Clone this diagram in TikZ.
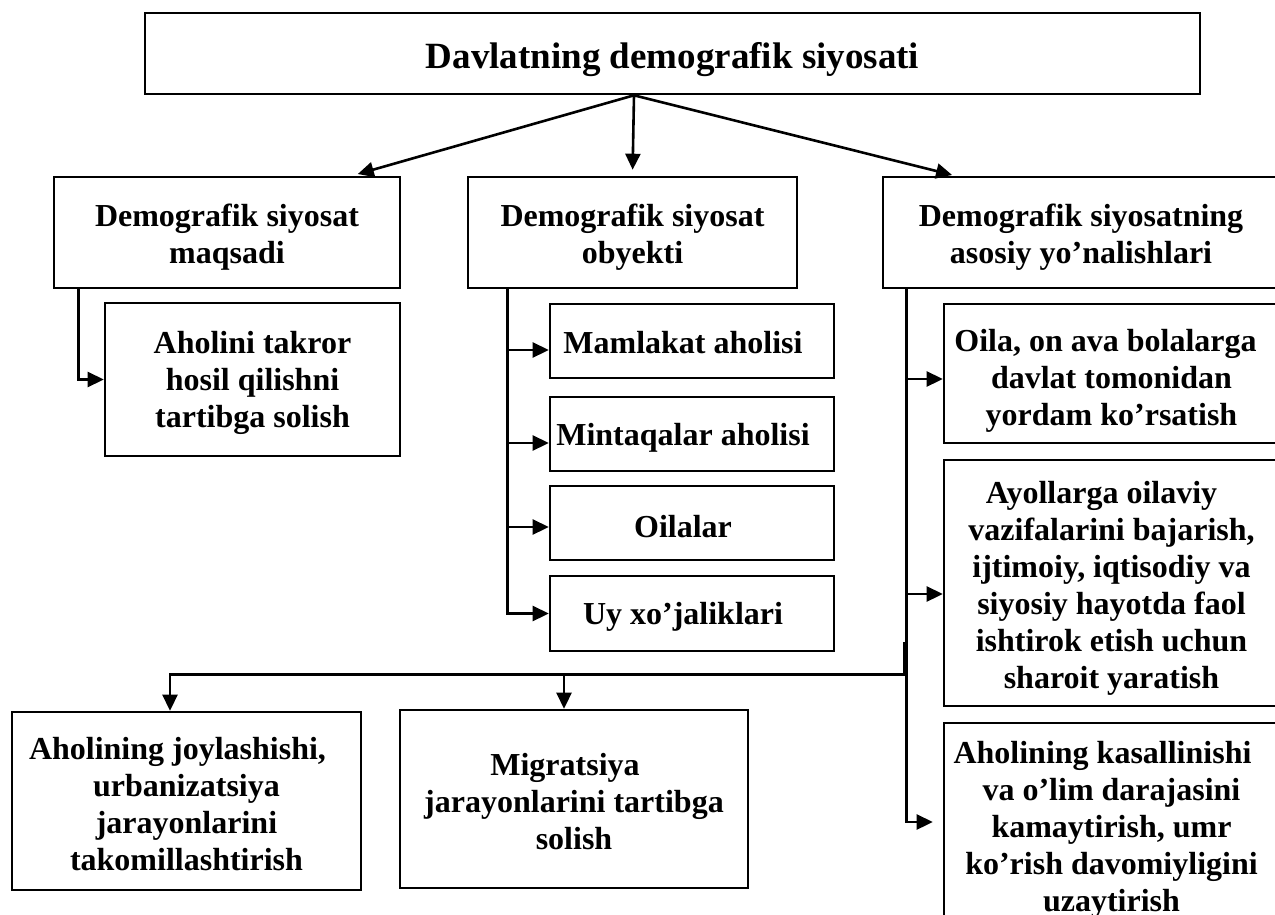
\documentclass[tikz,border=0pt]{standalone}
\usepackage{fontspec}
\setmainfont{Liberation Serif}
\usetikzlibrary{arrows.meta}
\tikzset{
  frame/.style={draw, line width=2.6pt, inner sep=0pt},
  txt/.style={inner sep=0pt, align=center,
    font=\bfseries\fontsize{32}{37}\selectfont},
  link/.style={line width=2.6pt},
  arr/.style={line width=2.6pt, -{Triangle[length=16pt,width=15pt]}}
}
\begin{document}
\begin{tikzpicture}[x=1pt,y=-1pt]
\useasboundingbox (0,0) rectangle (1275,915);
\clip (0,0) rectangle (1275,915);
% boxes
\node[frame, minimum width=1055pt, minimum height=81pt] (top) at (672.5,53.5) {};
\node[txt, font=\bfseries\fontsize{37}{42}\selectfont] (topt) at ([yshift=-6pt]top.center) {Davlatning demografik siyosati};
\node[frame, minimum width=346pt, minimum height=111pt] (b1) at (227,232.5) {};
\node[txt] (b1t) at ([yshift=-5pt]b1.center) {Demografik siyosat\\maqsadi};
\node[frame, minimum width=329pt, minimum height=111pt] (b2) at (632.5,232.5) {};
\node[txt] (b2t) at ([yshift=-5pt]b2.center) {Demografik siyosat\\obyekti};
\node[frame, minimum width=396pt, minimum height=111pt] (b3) at (1081,232.5) {};
\node[txt] (b3t) at ([yshift=-5pt]b3.center) {Demografik siyosatning\\asosiy yo’nalishlari};
\node[frame, minimum width=295pt, minimum height=153pt] (a1) at (252.5,379.5) {};
\node[txt] (a1t) at ([yshift=-3pt]a1.center) {Aholini takror\\hosil qilishni\\tartibga solish};
\node[frame, minimum width=284pt, minimum height=74pt] (m1) at (692,341) {};
\node[txt] (m1t) at ([xshift=-9pt,yshift=-2pt]m1.center) {Mamlakat aholisi};
\node[frame, minimum width=284pt, minimum height=74pt] (m2) at (692,434) {};
\node[txt] (m2t) at ([xshift=-9pt,yshift=-4pt]m2.center) {Mintaqalar aholisi};
\node[frame, minimum width=284pt, minimum height=74pt] (m3) at (692,523) {};
\node[txt] (m3t) at ([xshift=-9pt,yshift=-4pt]m3.center) {Oilalar};
\node[frame, minimum width=284pt, minimum height=75pt] (m4) at (692,613.5) {};
\node[txt] (m4t) at ([xshift=-9pt,yshift=-3pt]m4.center) {Uy xo’jaliklari};
\node[frame, minimum width=335pt, minimum height=139pt] (r1) at (1111.5,373.5) {};
\node[txt] (r1t) at ([yshift=-7pt]r1.center) {Oila, on ava bolalarga\hspace*{12pt}\\davlat tomonidan\\yordam ko’rsatish};
\node[frame, minimum width=335pt, minimum height=246pt] (r2) at (1111.5,583) {};
\node[txt] (r2t) at ([yshift=-5pt]r2.center) {Ayollarga oilaviy\hspace*{20pt}\\vazifalarini bajarish,\\ijtimoiy, iqtisodiy va\\siyosiy hayotda faol\\ishtirok etish uchun\\sharoit yaratish};
\node[frame, minimum width=335pt, minimum height=206pt] (r3) at (1111.5,826) {};
\node[txt] (r3t) at ([yshift=-4pt]r3.center) {Aholining kasallinishi\hspace*{18pt}\\va o’lim darajasini\\kamaytirish, umr\\ko’rish davomiyligini\\uzaytirish};
\node[frame, minimum width=349pt, minimum height=178pt] (c1) at (186.5,801) {};
\node[txt] (c1t) at ([yshift=-3pt]c1.center) {Aholining joylashishi,\hspace*{18pt}\\urbanizatsiya\\jarayonlarini\\takomillashtirish};
\node[frame, minimum width=348pt, minimum height=178pt] (c2) at (574,799) {};
\node[txt] (c2t) at ([yshift=-3pt]c2.center) {Migratsiya\hspace*{18pt}\\jarayonlarini tartibga\\solish};
% top arrows
\coordinate (o) at ([xshift=-38.5pt]top.south);
\draw[arr, shorten >=6pt] (o) -- ([xshift=125pt]b1.north);
\draw[arr, shorten >=6pt] (o) -- (b2.north);
\draw[arr, shorten >=3pt] (o) -- ([xshift=-126pt]b3.north);
% left branch
\draw[arr] ([xshift=26pt]b1.south west) |- (a1.west);
% middle branch
\coordinate (s2) at ([xshift=41pt]b2.south west);
\draw[arr] (s2) |- (m4.west);
\draw[arr] ([yshift=-9pt]m1.west -| s2) -- ([yshift=-9pt]m1.west);
\draw[arr] ([yshift=-9pt]m2.west -| s2) -- ([yshift=-9pt]m2.west);
\draw[arr] ([yshift=-4pt]m3.west -| s2) -- ([yshift=-4pt]m3.west);
% right branch
\coordinate (s3) at ([xshift=25pt]b3.south west);
\draw[arr, shorten >=10pt] (s3) |- ([yshift=4pt]r3.west);
\draw[arr] ([yshift=-5.5pt]r1.west -| s3) -- ([yshift=-5.5pt]r1.west);
\draw[arr] ([yshift=-11pt]r2.west -| s3) -- ([yshift=-11pt]r2.west);
% bottom branch
\coordinate (j0) at ([xshift=-2pt,yshift=-353pt]s3);
\coordinate (j) at ([xshift=-2pt,yshift=-385pt]s3);
\draw[link] (j0) -- (j);
\draw[arr] (j) -| ([xshift=-16.5pt]c1.north);
\draw[arr] ([xshift=-10pt]c2.north |- j) -- ([xshift=-10pt]c2.north);
\end{tikzpicture}
\end{document}
